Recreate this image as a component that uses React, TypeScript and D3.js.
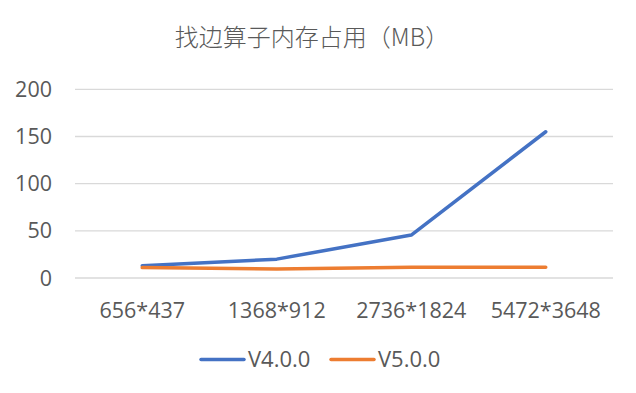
import React from "react";
import * as d3 from "d3";

const categories = ["656*437", "1368*912", "2736*1824", "5472*3648"];
const v4 = [13, 20, 45.5, 155];
const v5 = [11, 9.5, 11.5, 11.5];
const yTicks = [0, 50, 100, 150, 200];
const seriesNames = ["V4.0.0", "V5.0.0"];
const colors = ["#4472C4", "#ED7D31"];
const title = "找边算子内存占用（MB）";

export default function App() {
  const W = 636, H = 393;
  const x = d3.scaleBand<string>().domain(categories).range([75, 613]);
  const y = d3.scaleLinear().domain([0, 200]).range([278, 89.3]);
  const line = d3
    .line<number>()
    .x((_, i) => (x(categories[i]) as number) + x.bandwidth() / 2)
    .y((d) => y(d));
  const series = [v4, v5];
  const font = "'Open Sans', sans-serif";
  const legendX = [201, 331];
  return (
    <svg width={W} height={H} style={{ position: "absolute", left: 0, top: 0 }}>
      <rect width={W} height={H} fill="#fff" />
      <text x={312} y={46} textAnchor="middle" fontSize={24} fill="#595959" fontFamily="'Noto Sans CJK SC', sans-serif" fontWeight={300}>
        {title}
      </text>
      {yTicks.map((t) => (
        <g key={t}>
          <line x1={75} x2={613} y1={y(t)} y2={y(t)} stroke="#D9D9D9" strokeWidth={1.3} />
          <text x={52} y={y(t)} dy="0.35em" textAnchor="end" fontSize={21.5} fill="#595959" fontFamily={font}>
            {t}
          </text>
        </g>
      ))}
      {categories.map((c) => (
        <text key={c} x={(x(c) as number) + x.bandwidth() / 2} y={310} dy="0.35em" textAnchor="middle" fontSize={21.5} fill="#595959" fontFamily={font}>
          {c}
        </text>
      ))}
      {series.map((s, i) => (
        <path key={i} d={line(s) || ""} fill="none" stroke={colors[i]} strokeWidth={3.5} strokeLinecap="round" strokeLinejoin="round" />
      ))}
      {seriesNames.map((n, i) => (
        <g key={n}>
          <line x1={legendX[i]} x2={legendX[i] + 43} y1={359.5} y2={359.5} stroke={colors[i]} strokeWidth={3.5} strokeLinecap="round" />
          <text x={legendX[i] + 47} y={359.5} dy="0.35em" fontSize={22} fill="#595959" fontFamily={font}>
            {n}
          </text>
        </g>
      ))}
    </svg>
  );
}
